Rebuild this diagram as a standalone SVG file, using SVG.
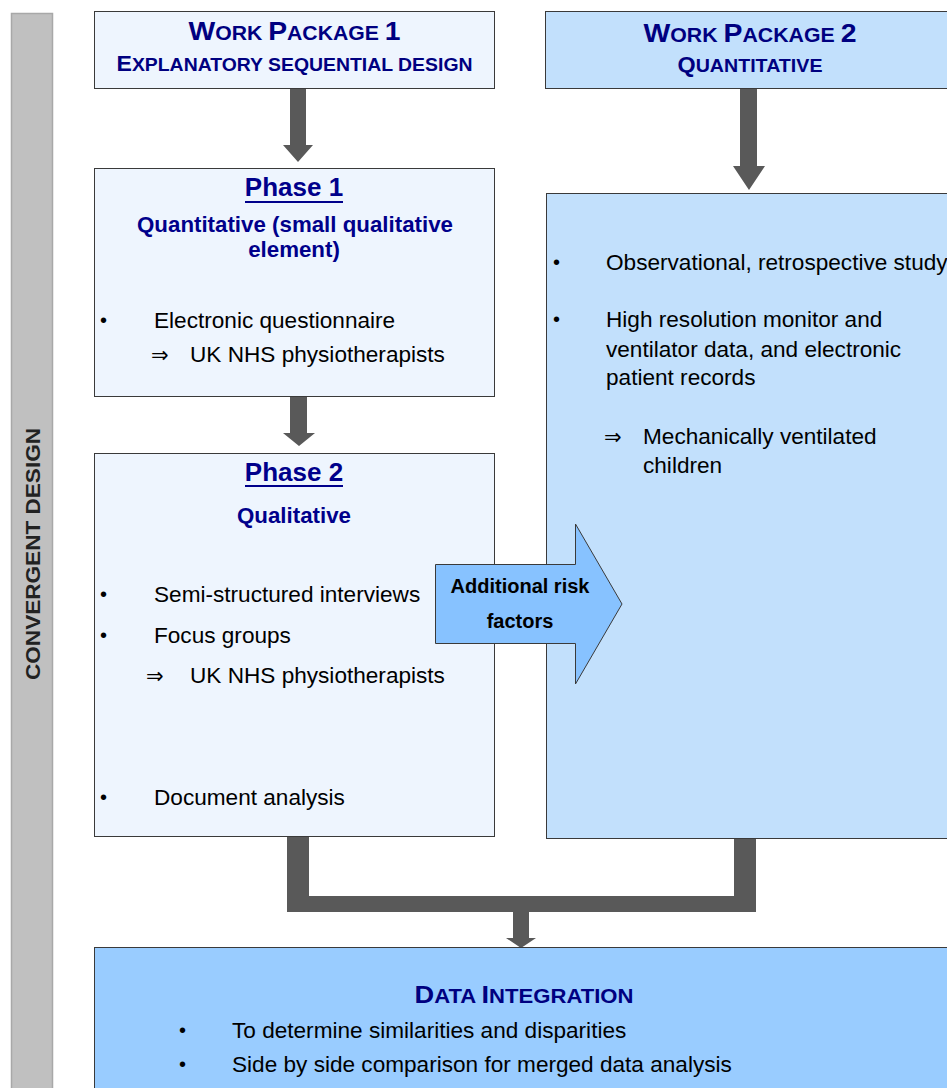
<svg xmlns="http://www.w3.org/2000/svg" width="947" height="1088" viewBox="0 0 947 1088">
<style>
.t{font-family:"Liberation Sans",Arial,sans-serif}
.hd{font-weight:bold;fill:#000080}
.ph{font-weight:bold;fill:#00008b;font-size:26px}
.sub{font-weight:bold;fill:#00008b;font-size:22.3px}
.body{font-size:22.6px;fill:#000}
.bul{font-size:20px;fill:#000}
.arr{font-family:"DejaVu Sans",sans-serif;font-size:21px;fill:#000}
.box{stroke:#3a3a3a;stroke-width:1}
.light{fill:#eef5fe}
.mid{fill:#c2e0fc}
.conn{fill:#595959}
</style>
<rect width="947" height="1088" fill="#fff"/>
<g id="side">
<rect x="11.5" y="13.5" width="41" height="1080" fill="#c0c0c0" stroke="#a8a8a8" stroke-width="1.5"/>
<text class="t" transform="translate(40,554) rotate(-90)" text-anchor="middle" font-weight="bold" font-size="21" fill="#222" textLength="252" lengthAdjust="spacingAndGlyphs">CONVERGENT DESIGN</text>
</g>
<g id="connectors">
<polygon class="conn" points="290,88 306,88 306,145 313,145 298,162 283,145 290,145"/>
<polygon class="conn" points="290,397 307,397 307,433 315,433 299,446 283,433 290,433"/>
<polygon class="conn" points="740,88 757,88 757,166 765,166 749,190 733,166 740,166"/>
<path class="conn" d="M287,836 H309 V896 H734 V839 H756 V912 H529 V938 H536 L521,948 L506,938 H513 V912 H287 Z"/>
</g>
<g id="wp1">
<rect class="box light" x="94.5" y="11.5" width="400" height="77"/>
<text class="t hd" x="294.5" y="40" text-anchor="middle" textLength="212" lengthAdjust="spacingAndGlyphs"><tspan font-size="26">W</tspan><tspan font-size="19.5">ORK </tspan><tspan font-size="26">P</tspan><tspan font-size="19.5">ACKAGE </tspan><tspan font-size="26">1</tspan></text>
<text class="t hd" x="294.5" y="71" text-anchor="middle" textLength="356" lengthAdjust="spacingAndGlyphs"><tspan font-size="22">E</tspan><tspan font-size="18.5">XPLANATORY SEQUENTIAL DESIGN</tspan></text>
</g>
<g id="wp2">
<rect class="box mid" x="545.5" y="11.5" width="420" height="77"/>
<text class="t hd" x="750" y="42" text-anchor="middle" textLength="213" lengthAdjust="spacingAndGlyphs"><tspan font-size="26">W</tspan><tspan font-size="19.5">ORK </tspan><tspan font-size="26">P</tspan><tspan font-size="19.5">ACKAGE </tspan><tspan font-size="26">2</tspan></text>
<text class="t hd" x="750" y="72" text-anchor="middle" textLength="145" lengthAdjust="spacingAndGlyphs"><tspan font-size="22">Q</tspan><tspan font-size="18.5">UANTITATIVE</tspan></text>
</g>
<g id="phase1">
<rect class="box light" x="94.5" y="168.5" width="400" height="228"/>
<text class="t ph" x="294" y="196" text-anchor="middle">Phase 1</text>
<rect x="245" y="201" width="98" height="2" fill="#00008b"/>
<text class="t sub" x="295" y="232" text-anchor="middle">Quantitative (small qualitative</text>
<text class="t sub" x="294" y="257" text-anchor="middle">element)</text>
<text class="t bul" x="100" y="327">•</text>
<text class="t body" x="154" y="328">Electronic questionnaire</text>
<text class="arr" x="151" y="362">⇒</text>
<text class="t body" x="190" y="362">UK NHS physiotherapists</text>
</g>
<g id="phase2">
<rect class="box light" x="94.5" y="453.5" width="400" height="383"/>
<text class="t ph" x="294" y="481" text-anchor="middle">Phase 2</text>
<rect x="245" y="485" width="98" height="2" fill="#00008b"/>
<text class="t sub" x="294" y="523" text-anchor="middle">Qualitative</text>
<text class="t bul" x="100" y="601">•</text>
<text class="t body" x="154" y="602">Semi-structured interviews</text>
<text class="t bul" x="100" y="642">•</text>
<text class="t body" x="154" y="643">Focus groups</text>
<text class="arr" x="146" y="683">⇒</text>
<text class="t body" x="190" y="683">UK NHS physiotherapists</text>
<text class="t bul" x="100" y="804">•</text>
<text class="t body" x="154" y="805">Document analysis</text>
</g>
<g id="wp2-details">
<rect class="box mid" x="546.5" y="193.5" width="420" height="645"/>
<text class="t bul" x="553" y="269">•</text>
<text class="t body" x="606" y="270">Observational, retrospective study</text>
<text class="t bul" x="553" y="326">•</text>
<text class="t body" x="606" y="327">High resolution monitor and</text>
<text class="t body" x="606" y="357">ventilator data, and electronic</text>
<text class="t body" x="606" y="385">patient records</text>
<text class="arr" x="604" y="444">⇒</text>
<text class="t body" x="643" y="444">Mechanically ventilated</text>
<text class="t body" x="643" y="473">children</text>
</g>
<g id="risk">
<polygon points="435.5,564.5 575.5,564.5 575.5,524 622,604 575.5,684 575.5,643.5 435.5,643.5" fill="#87c2ff" stroke="#3a3a3a" stroke-width="1"/>
<text class="t" x="520" y="593" text-anchor="middle" font-weight="bold" font-size="20" fill="#000">Additional risk</text>
<text class="t" x="520" y="628" text-anchor="middle" font-weight="bold" font-size="20" fill="#000">factors</text>
</g>
<g id="integration">
<rect class="box" x="94.5" y="947.5" width="880" height="160" fill="#99ccff"/>
<text class="t hd" x="524" y="1003" text-anchor="middle" textLength="219" lengthAdjust="spacingAndGlyphs"><tspan font-size="24">D</tspan><tspan font-size="19.5">ATA </tspan><tspan font-size="24">I</tspan><tspan font-size="19.5">NTEGRATION</tspan></text>
<text class="t bul" x="179" y="1037">•</text>
<text class="t body" x="232" y="1038">To determine similarities and disparities</text>
<text class="t bul" x="179" y="1071">•</text>
<text class="t body" x="232" y="1072">Side by side comparison for merged data analysis</text>
</g>
</svg>
